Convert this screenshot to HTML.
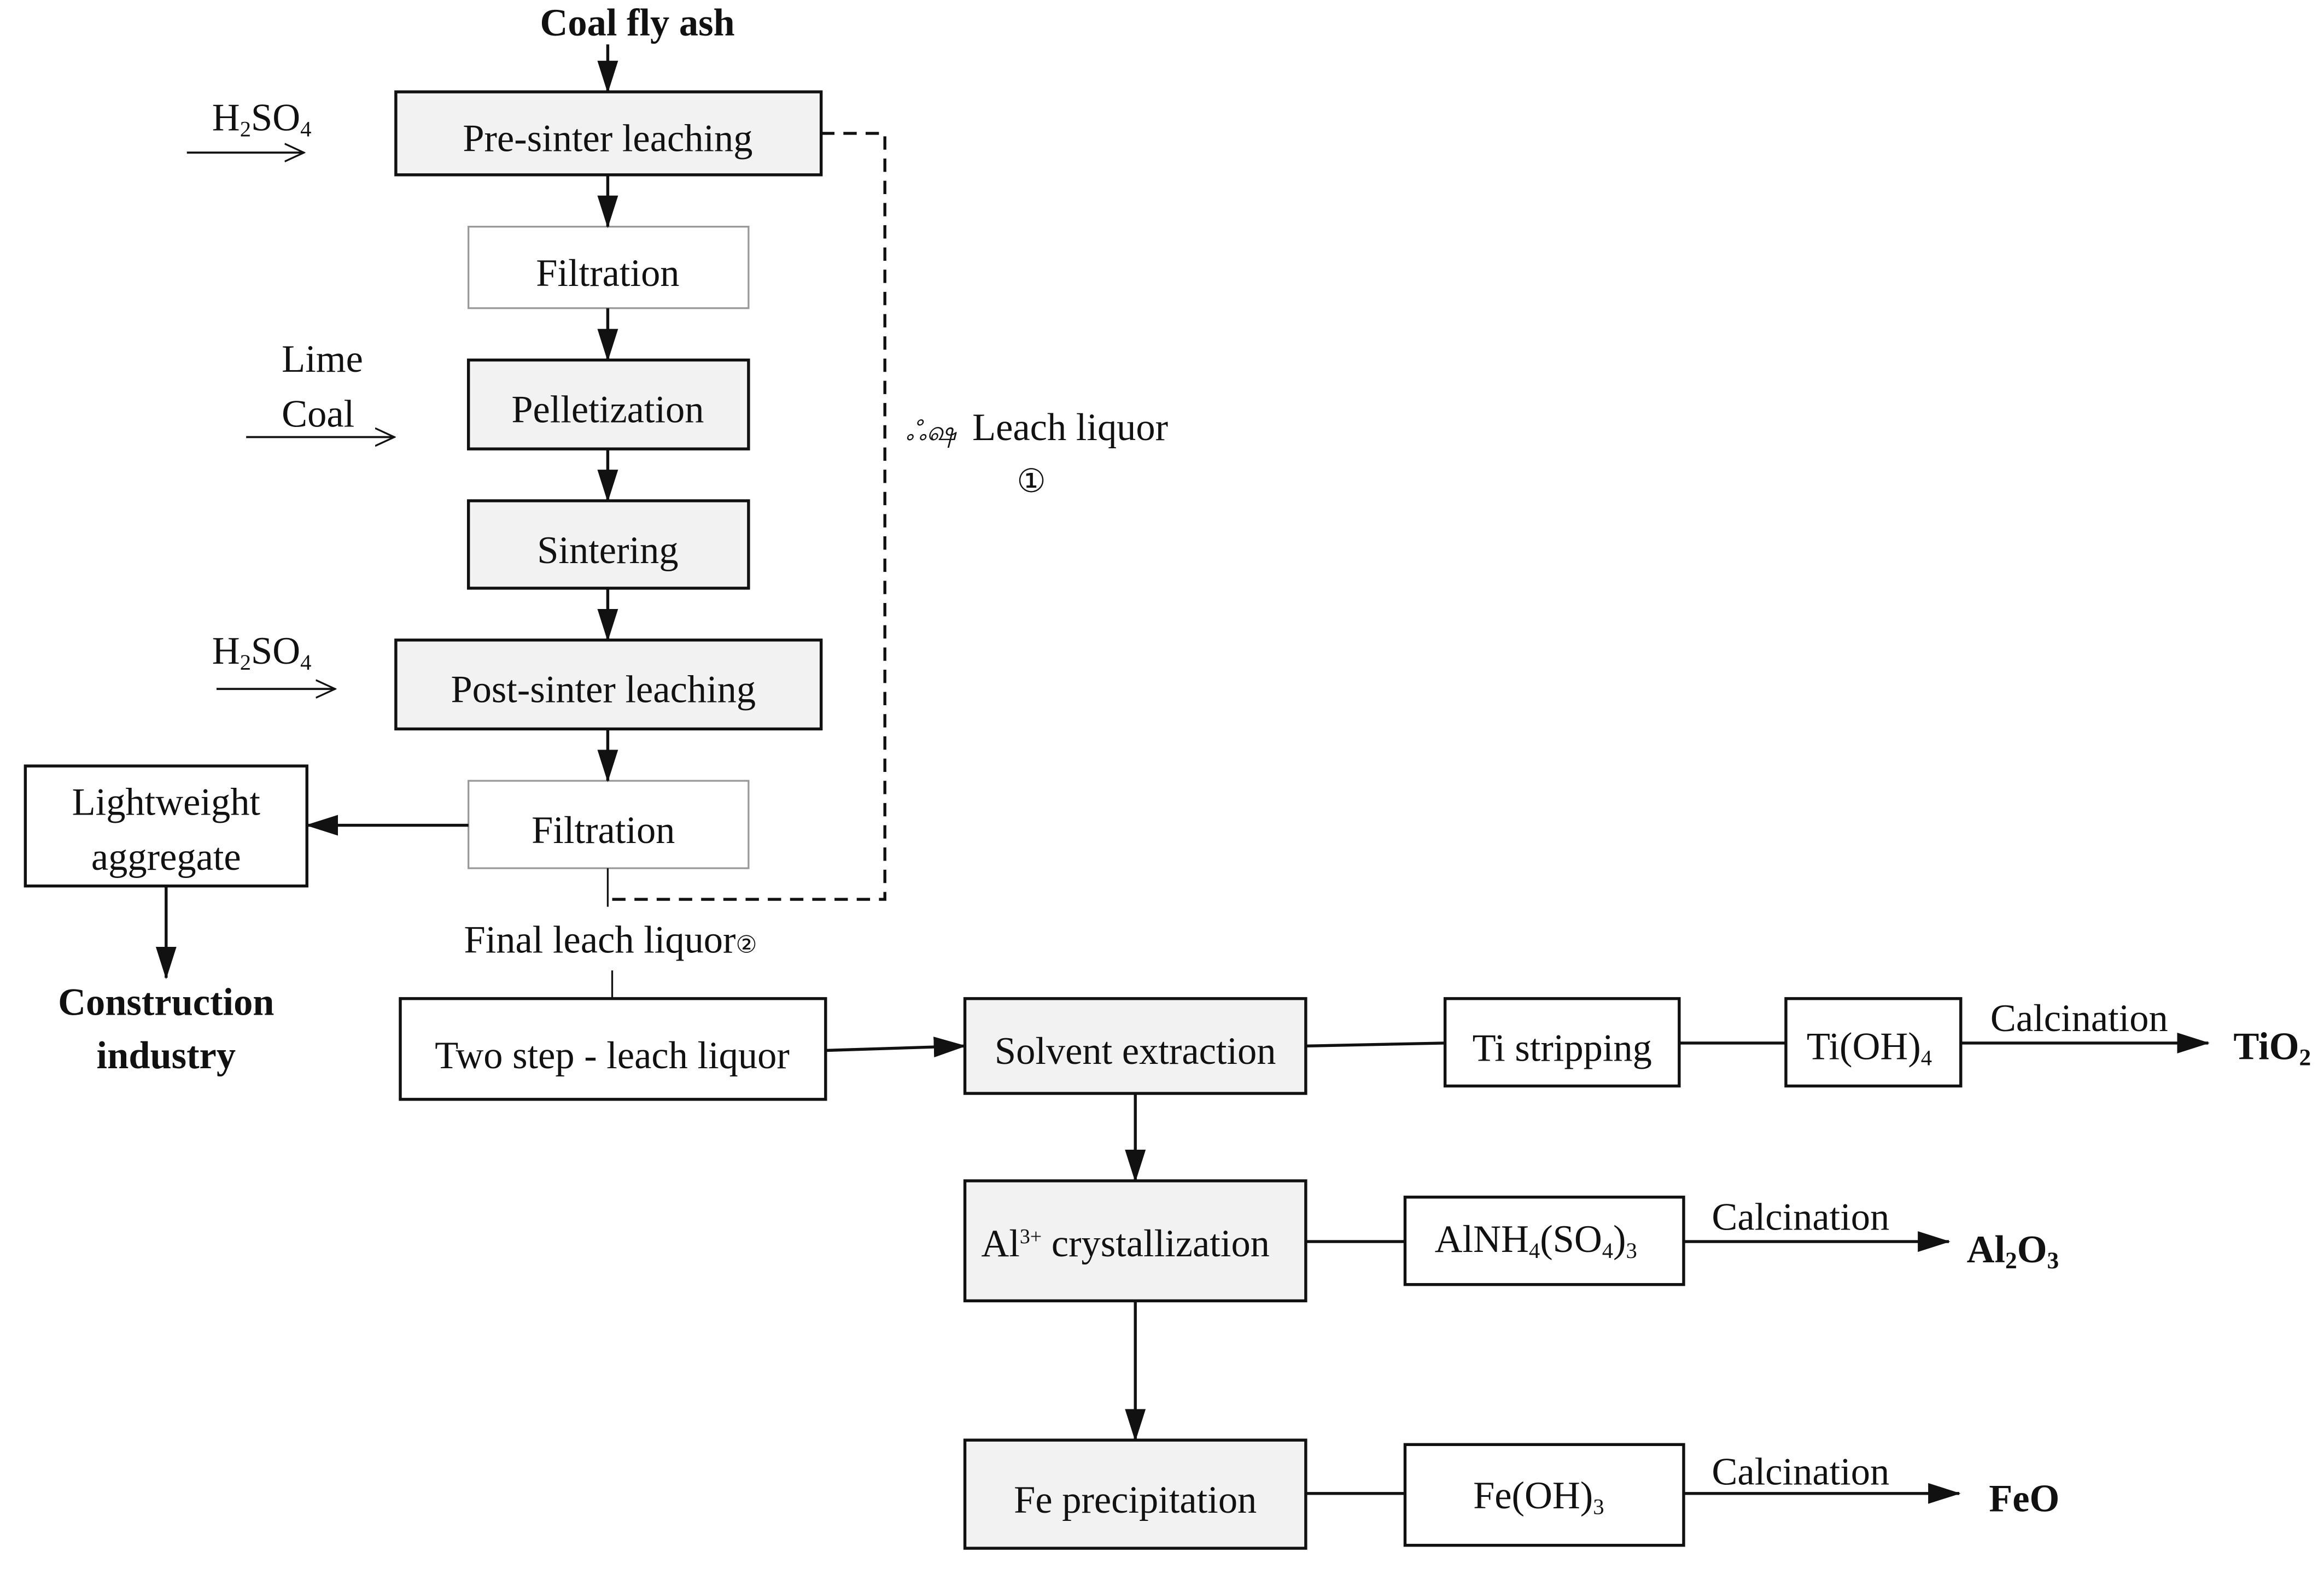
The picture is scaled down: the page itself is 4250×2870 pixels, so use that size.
<!DOCTYPE html>
<html><head><meta charset="utf-8"><style>
html,body{margin:0;padding:0;background:#fff;}
svg{display:block;}
text{font-family:"Liberation Serif",serif;fill:#111;}
</style></head><body>
<svg width="4250" height="2870" viewBox="0 0 1568 1059" xmlns="http://www.w3.org/2000/svg">
<defs>
<marker id="b" markerWidth="22" markerHeight="14" refX="21" refY="7" orient="auto" markerUnits="userSpaceOnUse" viewBox="0 0 22 14"><path d="M0,0 L22,7 L0,14 z" fill="#111"/></marker>
<marker id="o" markerWidth="14" markerHeight="14" refX="13" refY="7" orient="auto" markerUnits="userSpaceOnUse" viewBox="0 0 14 14"><path d="M0,1 L13,7 L0,13" fill="none" stroke="#111" stroke-width="1.2"/></marker>
</defs>
<g stroke="#111" stroke-width="2" fill="none">
<rect x="267" y="62" width="287" height="56" fill="#f2f2f2"/>
<rect x="316" y="153" width="189" height="55" fill="#fff" stroke="#999" stroke-width="1.2"/>
<rect x="316" y="243" width="189" height="60" fill="#f2f2f2"/>
<rect x="316" y="338" width="189" height="59" fill="#f2f2f2"/>
<rect x="267" y="432" width="287" height="60" fill="#f2f2f2"/>
<rect x="316" y="527" width="189" height="59" fill="#fff" stroke="#999" stroke-width="1.2"/>
<rect x="17" y="517" width="190" height="81" fill="#fff"/>
<rect x="270" y="674" width="287" height="68" fill="#fff"/>
<rect x="651" y="674" width="230" height="64" fill="#f2f2f2"/>
<rect x="975" y="674" width="158" height="59" fill="#fff"/>
<rect x="1205" y="674" width="118" height="59" fill="#fff"/>
<rect x="651" y="797" width="230" height="81" fill="#f2f2f2"/>
<rect x="948" y="808" width="188" height="59" fill="#fff"/>
<rect x="651" y="972" width="230" height="73" fill="#f2f2f2"/>
<rect x="948" y="975" width="188" height="68" fill="#fff"/>
<line x1="410" y1="30" x2="410" y2="62" marker-end="url(#b)"/>
<line x1="410" y1="118" x2="410" y2="153" marker-end="url(#b)"/>
<line x1="410" y1="208" x2="410" y2="243" marker-end="url(#b)"/>
<line x1="410" y1="303" x2="410" y2="338" marker-end="url(#b)"/>
<line x1="410" y1="397" x2="410" y2="432" marker-end="url(#b)"/>
<line x1="410" y1="492" x2="410" y2="527" marker-end="url(#b)"/>
<line x1="316" y1="557" x2="207" y2="557" marker-end="url(#b)"/>
<line x1="112" y1="598" x2="112" y2="660" marker-end="url(#b)"/>
<line x1="410" y1="586" x2="410" y2="612" stroke-width="1.2"/>
<line x1="413" y1="655" x2="413" y2="674" stroke-width="1.2"/>
<line x1="126" y1="103" x2="205" y2="103" stroke-width="1.4" marker-end="url(#o)"/>
<line x1="166" y1="295" x2="266" y2="295" stroke-width="1.4" marker-end="url(#o)"/>
<line x1="146" y1="465" x2="226" y2="465" stroke-width="1.4" marker-end="url(#o)"/>
<polyline points="554,90 597,90 597,607 410,607" stroke-dasharray="9,6"/>
<line x1="557" y1="709" x2="651" y2="706" marker-end="url(#b)"/>
<line x1="881" y1="706" x2="975" y2="704"/>
<line x1="1133" y1="704" x2="1205" y2="704"/>
<line x1="1323" y1="704" x2="1490" y2="704" marker-end="url(#b)"/>
<line x1="766" y1="738" x2="766" y2="797" marker-end="url(#b)"/>
<line x1="881" y1="838" x2="948" y2="838"/>
<line x1="1136" y1="838" x2="1315" y2="838" marker-end="url(#b)"/>
<line x1="766" y1="878" x2="766" y2="972" marker-end="url(#b)"/>
<line x1="881" y1="1008" x2="948" y2="1008"/>
<line x1="1136" y1="1008" x2="1322" y2="1008" marker-end="url(#b)"/>
</g>
<g font-size="26">
<text x="430" y="24" text-anchor="middle" font-weight="bold">Coal fly ash</text>
<text x="410" y="102" text-anchor="middle">Pre-sinter leaching</text>
<text x="410" y="193" text-anchor="middle">Filtration</text>
<text x="410" y="285" text-anchor="middle">Pelletization</text>
<text x="410" y="380" text-anchor="middle">Sintering</text>
<text x="407" y="474" text-anchor="middle">Post-sinter leaching</text>
<text x="407" y="569" text-anchor="middle">Filtration</text>
<text x="112" y="550" text-anchor="middle">Lightweight</text>
<text x="112" y="587" text-anchor="middle">aggregate</text>
<text x="112" y="685" text-anchor="middle" font-weight="bold">Construction</text>
<text x="112" y="721" text-anchor="middle" font-weight="bold">industry</text>
<text x="143" y="88">H<tspan font-size="15" dy="4">2</tspan><tspan dy="-4">SO</tspan><tspan font-size="15" dy="4">4</tspan></text>
<text x="143" y="448">H<tspan font-size="15" dy="4">2</tspan><tspan dy="-4">SO</tspan><tspan font-size="15" dy="4">4</tspan></text>
<text x="190" y="251">Lime</text>
<text x="190" y="288">Coal</text>
<text x="611" y="297" font-size="18" font-style="italic">ஃஷ</text>
<text x="656" y="297">Leach liquor</text>
<text x="686" y="332" font-size="22">①</text>
<text x="313" y="643">Final leach liquor<tspan font-size="16">②</tspan></text>
<text x="413" y="721" text-anchor="middle">Two step - leach liquor</text>
<text x="766" y="718" text-anchor="middle">Solvent extraction</text>
<text x="1054" y="716" text-anchor="middle">Ti stripping</text>
<text x="1219" y="715">Ti(OH)<tspan font-size="15" dy="4">4</tspan></text>
<text x="1343" y="696">Calcination</text>
<text x="1507" y="715" font-weight="bold">TiO<tspan font-size="16" dy="4">2</tspan></text>
<text x="662" y="848">Al<tspan font-size="14" dy="-9">3+</tspan><tspan dy="9"> crystallization</tspan></text>
<text x="968" y="845">AlNH<tspan font-size="15" dy="4">4</tspan><tspan dy="-4">(SO</tspan><tspan font-size="15" dy="4">4</tspan><tspan dy="-4">)</tspan><tspan font-size="15" dy="4">3</tspan></text>
<text x="1155" y="830">Calcination</text>
<text x="1327" y="852" font-weight="bold">Al<tspan font-size="16" dy="4">2</tspan><tspan dy="-4">O</tspan><tspan font-size="16" dy="4">3</tspan></text>
<text x="766" y="1021" text-anchor="middle">Fe precipitation</text>
<text x="994" y="1018">Fe(OH)<tspan font-size="15" dy="4">3</tspan></text>
<text x="1155" y="1002">Calcination</text>
<text x="1342" y="1020" font-weight="bold">FeO</text>
</g>
</svg>
</body></html>
